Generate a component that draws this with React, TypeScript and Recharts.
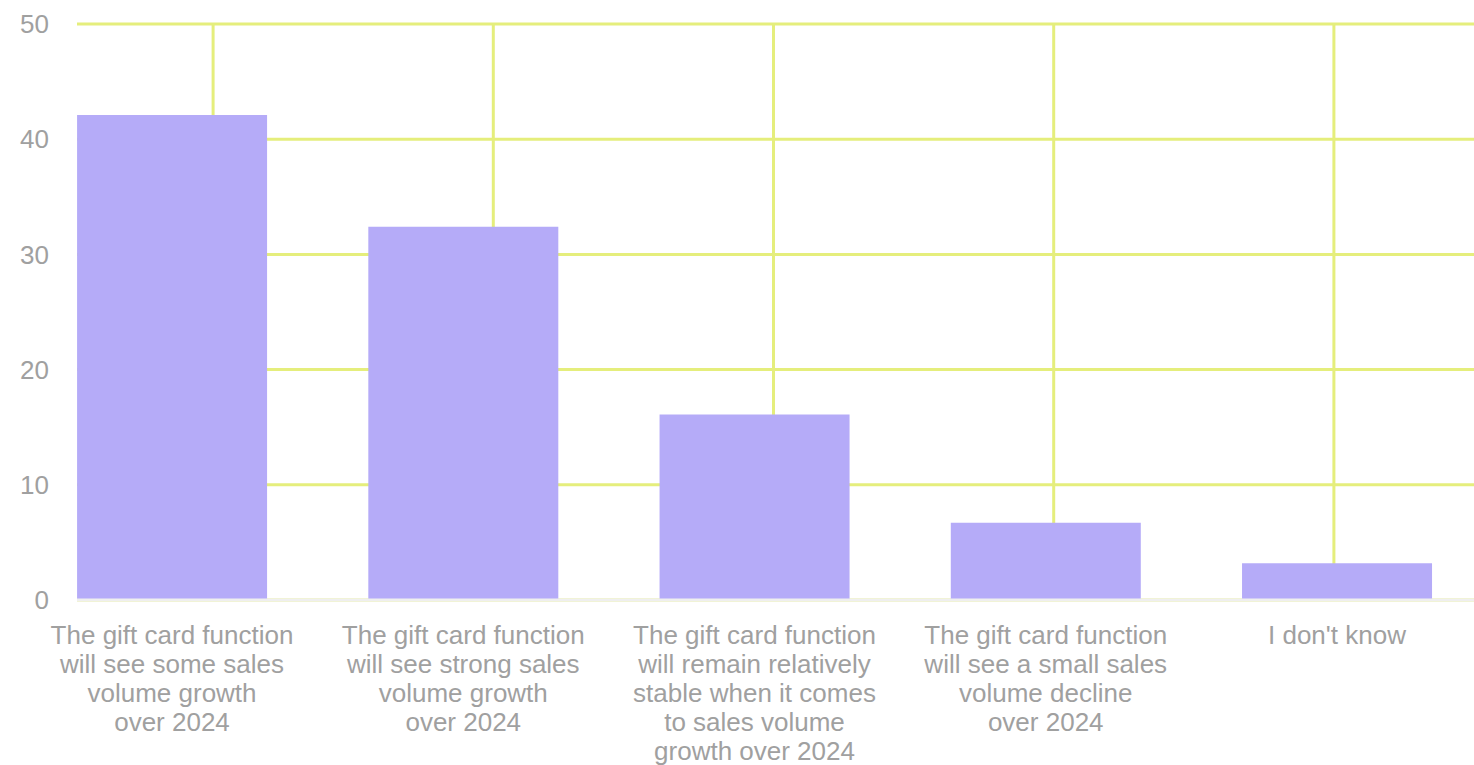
import React from 'react';
import { BarChart, Bar, XAxis, YAxis, CartesianGrid } from 'recharts';

const categories = [
  'The gift card function\nwill see some sales\nvolume growth\nover 2024',
  'The gift card function\nwill see strong sales\nvolume growth\nover 2024',
  'The gift card function\nwill remain relatively\nstable when it comes\nto sales volume\ngrowth over 2024',
  'The gift card function\nwill see a small sales\nvolume decline\nover 2024',
  "I don't know",
];

const shares = [42.1, 32.4, 16.1, 6.7, 3.2];

const yTicks = [0, 10, 20, 30, 40, 50];

const data = categories.map((name, i) => ({ name, value: shares[i] }));

const FONT = '"Liberation Sans", Arial, Helvetica, sans-serif';
const TEXT = '#a0a0a0';

const WrappedTick = (props: any) => {
  const { x, y, payload } = props;
  const lines = String(payload.value).split('\n');
  return (
    <text
      x={x}
      y={y}
      textAnchor="middle"
      fill={TEXT}
      fontSize={26}
      fontFamily={FONT}
    >
      {lines.map((line, i) => (
        <tspan key={i} x={x} dy={i === 0 ? '0.71em' : 29}>
          {line}
        </tspan>
      ))}
    </text>
  );
};

export default function App() {
  return (
    <div style={{ position: 'absolute', left: 0, top: 0, background: '#fff' }}>
      <BarChart
        width={1474}
        height={765}
        data={data}
        margin={{ top: 24, right: 0, bottom: 0, left: 0 }}
        barCategoryGap="17.4%"
      >
        <CartesianGrid
          xAxisId="grid"
          stroke="#e5ee7c"
          strokeWidth={3}
          vertical
          horizontal
          syncWithTicks
        />
        <XAxis
          xAxisId="grid"
          dataKey="name"
          hide
          padding={{ left: -4, right: 0 }}
        />
        <XAxis
          dataKey="name"
          height={165}
          interval={0}
          tickLine={false}
          tickSize={0}
          tickMargin={26}
          axisLine={{ stroke: '#efefef', strokeWidth: 3 }}
          tick={<WrappedTick />}
          padding={{ left: -50.6, right: -8.6 }}
        />
        <YAxis
          width={77}
          domain={[0, 50]}
          ticks={yTicks}
          axisLine={false}
          tickLine={false}
          tickSize={0}
          tickMargin={28}
          tick={{ fill: TEXT, fontSize: 26, fontFamily: FONT }}
        />
        <Bar dataKey="value" fill="#b5abf8" isAnimationActive={false} />
      </BarChart>
    </div>
  );
}
